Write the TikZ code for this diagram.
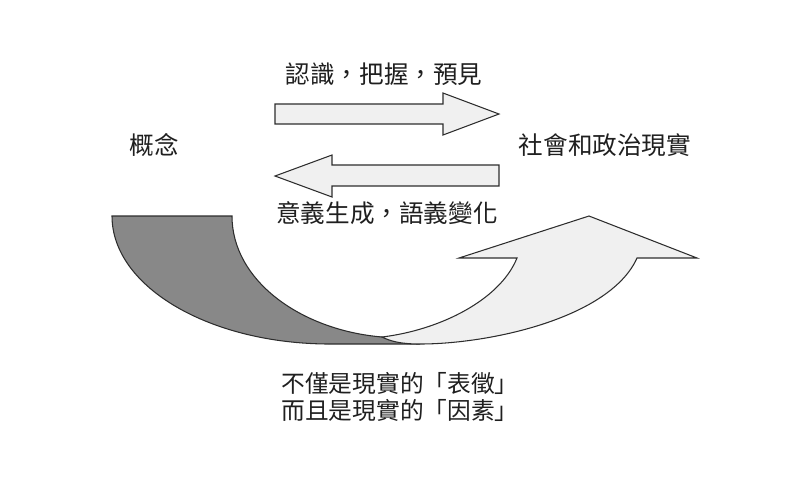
\documentclass[tikz,border=0pt]{standalone}
\usepackage{fontspec}
\newfontfamily\cjk{Noto Sans CJK TC}
\usepackage{tikz}

\definecolor{darkpart}{RGB}{136,136,136}
\definecolor{lightpart}{RGB}{240,240,240}
\definecolor{edge}{RGB}{45,45,45}

\tikzset{
  label/.style={font=\cjk\fontsize{14pt}{16pt}\selectfont, inner sep=0pt, text=black!88},
  blockarrow/.style={draw=edge, fill=lightpart, line width=0.6pt, line join=miter},
}

\begin{document}
\begin{tikzpicture}[x=0.02cm, y=-0.02cm]
        \useasboundingbox (0,0) rectangle (800,478);
        % texts
        \node[label] at (384,74) (know) {認識，把握，預見};
        \node[label] at (154,145) (concept) {概念};
        \node[label] at (605,145) (reality) {社會和政治現實};
        \node[label] at (387,213) (meaning) {意義生成，語義變化};
        \node[label, align=center, font=\cjk\fontsize{13.5pt}{15.4pt}\selectfont] at (400,397) (factor)
            {不僅是現實的「表徵」\\而且是現實的「因素」};
        % straight arrows
        \draw[blockarrow] (275,104) -- (443,104) -- (443,93) -- (499,114)
            -- (443,135) -- (443,124) -- (275,124) -- cycle;
        \draw[blockarrow] (499,165) -- (332,165) -- (332,155) -- (275,176)
            -- (332,197) -- (332,186) -- (499,186) -- cycle;
        % curved arrow, dark back part
        \draw[blockarrow, fill=darkpart] (112,216) .. controls (112,287) and (210,344) .. (330,344)
            -- (420,344) -- (382,337) .. controls (300,330) and (232,280) .. (232,216) -- cycle;
        % curved arrow, light front part
        \draw[blockarrow] (382,337) .. controls (440,330) and (500,300) .. (517,258)
            -- (459,258) -- (589,216) -- (697,258) -- (637,258)
            .. controls (610,318) and (490,344) .. (420,344)
            .. controls (400,344) and (390,341) .. (382,337) -- cycle;
    \end{tikzpicture}
\end{document}
